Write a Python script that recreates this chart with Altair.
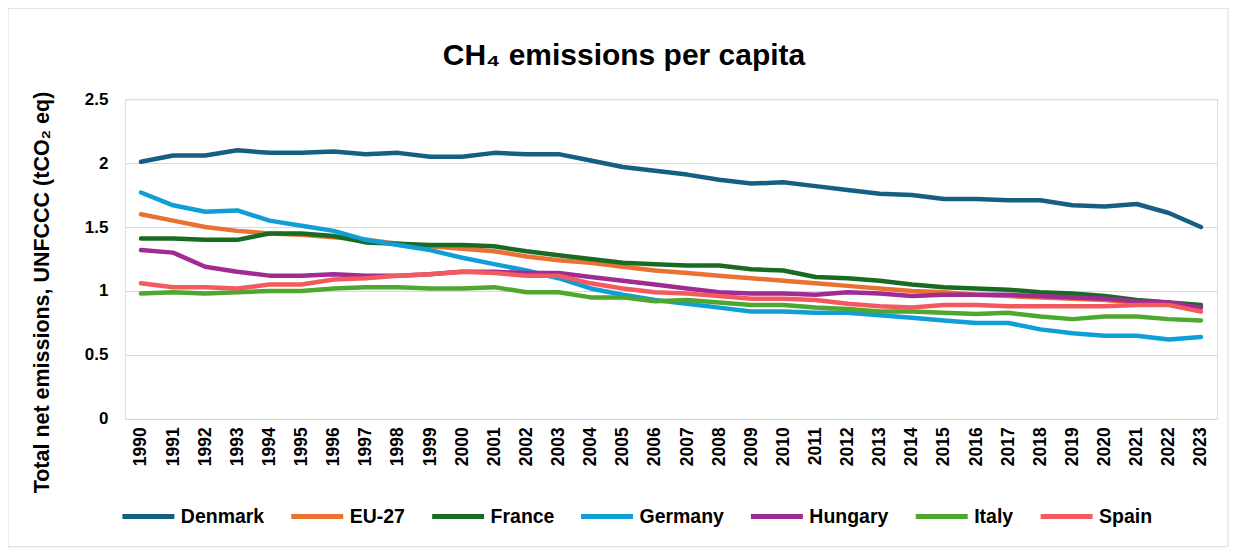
import altair as alt
import pandas as pd

years = list(range(1990, 2024))

denmark = [2.01, 2.06, 2.06, 2.10, 2.08, 2.08, 2.09, 2.07, 2.08, 2.05, 2.05, 2.08, 2.07, 2.07,
           2.02, 1.97, 1.94, 1.91, 1.87, 1.84, 1.85, 1.82, 1.79, 1.76, 1.75, 1.72, 1.72, 1.71,
           1.71, 1.67, 1.66, 1.68, 1.61, 1.50]
eu27 = [1.60, 1.55, 1.50, 1.47, 1.45, 1.44, 1.42, 1.40, 1.37, 1.35, 1.33, 1.31, 1.27, 1.24,
        1.22, 1.19, 1.16, 1.14, 1.12, 1.10, 1.08, 1.06, 1.04, 1.02, 1.00, 0.99, 0.97, 0.96,
        0.95, 0.94, 0.93, 0.91, 0.90, 0.88]
france = [1.41, 1.41, 1.40, 1.40, 1.45, 1.45, 1.43, 1.38, 1.37, 1.36, 1.36, 1.35, 1.31, 1.28,
          1.25, 1.22, 1.21, 1.20, 1.20, 1.17, 1.16, 1.11, 1.10, 1.08, 1.05, 1.03, 1.02, 1.01,
          0.99, 0.98, 0.96, 0.93, 0.91, 0.89]
germany = [1.77, 1.67, 1.62, 1.63, 1.55, 1.51, 1.47, 1.40, 1.36, 1.32, 1.26, 1.21, 1.16, 1.10,
           1.02, 0.97, 0.93, 0.90, 0.87, 0.84, 0.84, 0.83, 0.83, 0.81, 0.79, 0.77, 0.75, 0.75,
           0.70, 0.67, 0.65, 0.65, 0.62, 0.64]
hungary = [1.32, 1.30, 1.19, 1.15, 1.12, 1.12, 1.13, 1.12, 1.12, 1.13, 1.15, 1.15, 1.14, 1.14,
           1.11, 1.08, 1.05, 1.02, 0.99, 0.98, 0.98, 0.97, 0.99, 0.98, 0.96, 0.97, 0.97, 0.97,
           0.96, 0.95, 0.94, 0.92, 0.91, 0.87]
italy = [0.98, 0.99, 0.98, 0.99, 1.00, 1.00, 1.02, 1.03, 1.03, 1.02, 1.02, 1.03, 0.99, 0.99,
         0.95, 0.95, 0.92, 0.93, 0.91, 0.89, 0.89, 0.87, 0.86, 0.84, 0.84, 0.83, 0.82, 0.83,
         0.80, 0.78, 0.80, 0.80, 0.78, 0.77]
spain = [1.06, 1.03, 1.03, 1.02, 1.05, 1.05, 1.09, 1.10, 1.12, 1.13, 1.15, 1.14, 1.12, 1.12,
         1.06, 1.02, 0.99, 0.98, 0.96, 0.94, 0.94, 0.93, 0.90, 0.88, 0.87, 0.89, 0.89, 0.88,
         0.88, 0.88, 0.88, 0.89, 0.89, 0.84]

names = ["Denmark", "EU-27", "France", "Germany", "Hungary", "Italy", "Spain"]
colors = ["#156082", "#E97132", "#196B24", "#0F9ED5", "#A02B93", "#4EA72E", "#F25A5F"]
series = [denmark, eu27, france, germany, hungary, italy, spain]

rows = []
for name, vals in zip(names, series):
    for yr, v in zip(years, vals):
        rows.append({"Year": str(yr), "Country": name, "Value": v})
df = pd.DataFrame(rows)

FONT = "Liberation Sans"
W, H = 1093, 320

lines = alt.Chart(df).mark_line(strokeWidth=4.5, strokeCap="round", strokeJoin="round").encode(
    x=alt.X("Year:O", scale=alt.Scale(type="point", padding=0.5),
            axis=alt.Axis(title=None, labelAngle=-90, labelFontSize=17.5, labelFontWeight="bold",
                          labelFont=FONT, labelColor="#000000", labelPadding=8,
                          ticks=False, domain=False, grid=False)),
    y=alt.Y("Value:Q", scale=alt.Scale(domain=[0, 2.5]),
            axis=alt.Axis(title="Total net emissions, UNFCCC (tCO₂ eq)",
                          values=[0, 0.5, 1, 1.5, 2, 2.5], format="~g",
                          labelFontSize=17, labelFontWeight="bold", labelFont=FONT,
                          labelColor="#000000", labelPadding=17, ticks=False, domain=False,
                          grid=True, gridColor="#d9d9d9", gridWidth=1,
                          titleFont=FONT, titleFontSize=21.5, titleFontWeight="bold",
                          titleColor="#000000", titleX=-82, titleY=193,
                          titleAlign="center", titleBaseline="middle", titleAngle=270)),
    color=alt.Color("Country:N", scale=alt.Scale(domain=names, range=colors),
                    legend=alt.Legend(title=None, orient="none", legendX=-5, legendY=389,
                                      direction="horizontal", columns=7,
                                      symbolType="stroke", symbolSize=2704,
                                      symbolStrokeWidth=5, labelFont=FONT,
                                      labelFontSize=19.5, labelFontWeight="bold",
                                      labelColor="#000000", columnPadding=16,
                                      labelOffset=4, padding=0)),
)

border = alt.Chart(pd.DataFrame({"k": [0]})).mark_rect(
    fill="transparent", stroke="#d9d9d9", strokeWidth=1
).encode(x=alt.value(-117), x2=alt.value(1104), y=alt.value(-91), y2=alt.value(448))

chart = alt.layer(border, lines).properties(
    width=W, height=H,
    padding={"left": 117, "top": 91, "right": 12, "bottom": 129},
    autosize=alt.AutoSizeParams(type="none"),
    title=alt.TitleParams("CH₄ emissions per capita", font=FONT, fontSize=30,
                          fontWeight="bold", color="#000000", anchor="middle",
                          dx=-47, offset=-63),
).configure_view(stroke=None).configure(background="white")

chart.save("out.html", embed_options={"renderer": "svg", "actions": False})
